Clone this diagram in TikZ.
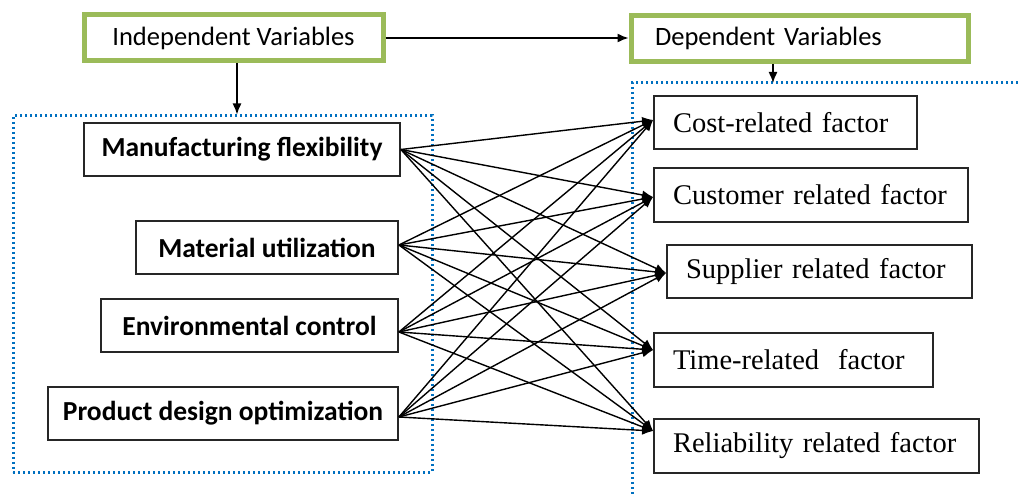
\documentclass[tikz,border=0pt]{standalone}
\usepackage{fontspec}
\setmainfont{Liberation Serif}
\newfontfamily\calib{Carlito}
\usetikzlibrary{arrows.meta,calc}
\definecolor{ovgreen}{RGB}{155,187,89}
\definecolor{ovblue}{RGB}{0,112,192}
\begin{document}
\begin{tikzpicture}[x=1pt,y=-1pt,
  varbox/.style={draw=ovgreen,line width=5pt,minimum height=46pt,inner sep=0pt,
    font=\calib\fontsize{26.5}{30}\selectfont},
  ivbox/.style={draw=black!85,line width=1.8pt,minimum height=53pt,inner sep=0pt,
    font=\calib\bfseries\fontsize{27.5}{31}\selectfont},
  dvbox/.style={draw=black!85,line width=1.8pt,minimum height=53pt,inner xsep=19pt,
    inner ysep=0pt,align=left,font=\fontsize{28.5}{32}\selectfont},
  grp/.style={draw=ovblue,line width=3pt,dash pattern=on 2.4pt off 2.6pt},
  arr/.style={draw=black,line width=1.4pt,-{Latex[length=11pt,width=9pt]}},
  conn/.style={draw=black,line width=1.4pt,-{Latex[length=11pt,width=9pt]}}]
\useasboundingbox (0,0) rectangle (1018,497);

% headings
\node[varbox,minimum width=299pt] (indep) at (233.5,38) {Independent Variables};
\node[varbox,inner xsep=24pt,text width=289pt,align=left] (dep) at (799.5,38.5) {Dependent Variables};

% dotted groups
\node[grp,minimum width=419pt,minimum height=356pt] (ivgroup) at (222.5,294) {};
\coordinate (dvcorner) at (632,83);
\draw[grp] (1018,83) -- (dvcorner) -- (632,497);

% independent variables
\node[ivbox,minimum width=316pt] (man)  at (242,149.5) {Manufacturing flexibility};
\node[ivbox,minimum width=262pt] (mat)  at (267,247.5) {Material utilization};
\node[ivbox,minimum width=297pt] (env)  at (249.5,325.5) {Environmental control};
\node[ivbox,minimum width=350pt] (prod) at (223,413.5) {Product design optimization};

% dependent variables
\node[dvbox,text width=225pt] (cost) at (785.5,122.5) {Cost-related factor};
\node[dvbox,text width=276pt,minimum height=54pt] (cust) at (811,195) {Customer related factor};
\node[dvbox,text width=267pt] (supp) at (819.5,271.5) {Supplier related factor};
\node[dvbox,text width=241pt,minimum height=54pt] (time) at (793.5,360) {Time-related\ \ factor};
\node[dvbox,text width=287pt,minimum height=54pt] (rel)  at (816.5,446) {Reliability related factor};

% heading arrows
\draw[arr] (indep.east) -- (indep.east -| dep.west);
\draw[arr] ([xshift=3.5pt]indep.south) -- ([xshift=3.5pt]indep.south |- ivgroup.north);
\draw[arr] ([xshift=-26.5pt]dep.south) -- ([xshift=-26.5pt]dep.south |- dvcorner);

% every independent variable to every dependent variable
\foreach \s/\sy in {man/0,mat/2.5,env/-6.5,prod/-3.5}
  \foreach \t/\ty in {cost/2.5,cust/-2,supp/-1.5,time/10,rel/15}
    \draw[conn] ([yshift=\sy pt]\s.east) -- ([yshift=\ty pt]\t.west);
\end{tikzpicture}
\end{document}
